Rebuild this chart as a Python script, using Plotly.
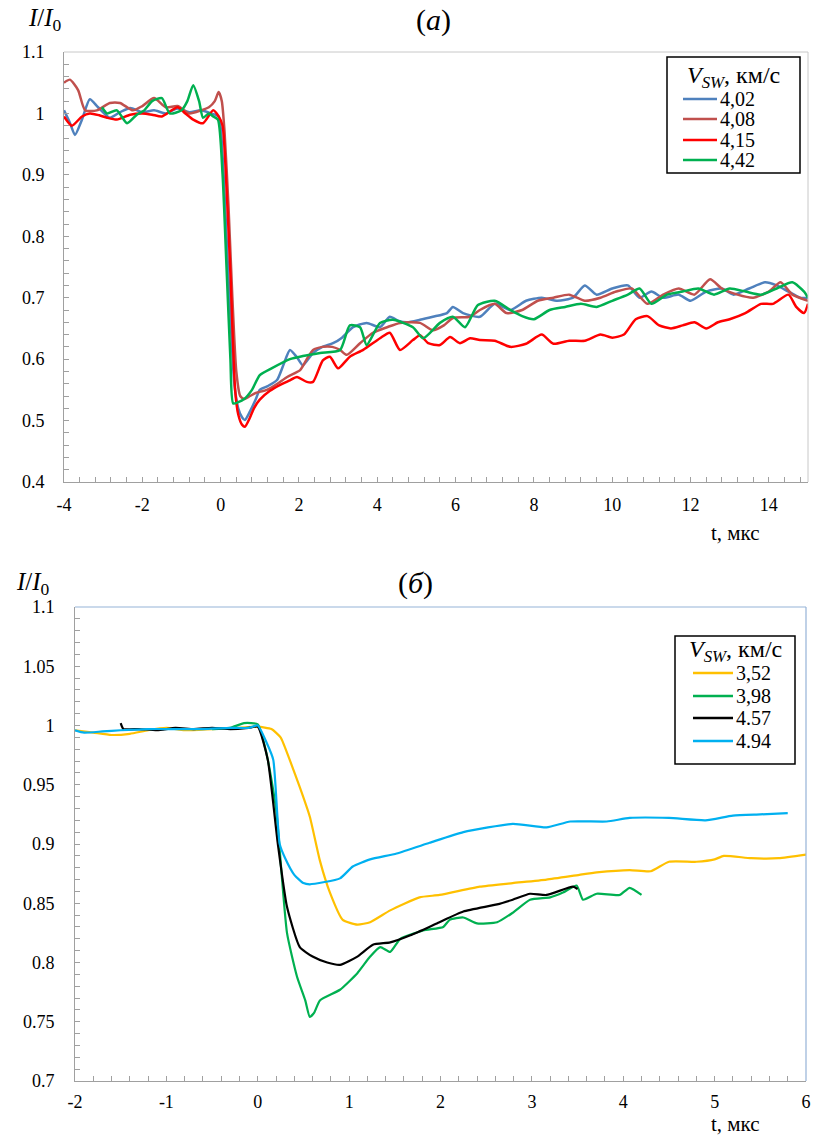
import plotly.graph_objects as go

# ---------------- data: panel (a) ----------------
a_labels = ["4,02", "4,08", "4,15", "4,42"]
a_colors = ["#4F81BD", "#C0504D", "#FF0000", "#00B050"]

a_402 = [(-4.0,1.005),(-3.85,0.985),(-3.72,0.965),(-3.54,0.99),(-3.34,1.023),(-3.13,1.01),(-2.83,0.993),
         (-2.57,1.002),(-2.31,1.009),(-2.0,1.002),(-1.7,1.005),(-1.4,1.0),(-1.1,1.008),(-0.8,1.002),(-0.5,1.005),
         (-0.25,1.0),(-0.05,0.995),(0.05,0.93),(0.15,0.8),(0.25,0.67),(0.35,0.56),(0.45,0.52),(0.55,0.505),
         (0.62,0.501),(0.75,0.515),(0.9,0.535),(1.0,0.55),(1.2,0.556),(1.44,0.566),(1.6,0.59),(1.77,0.615),
         (1.95,0.603),(2.1,0.59),(2.36,0.61),(2.6,0.62),(2.87,0.626),(3.1,0.635),(3.38,0.652),(3.73,0.659),
         (4.07,0.652),(4.32,0.669),(4.55,0.662),(4.76,0.66),(5.09,0.664),(5.42,0.669),(5.78,0.675),(5.93,0.685),
         (6.19,0.675),(6.62,0.669),(7.0,0.69),(7.4,0.68),(7.8,0.695),(8.2,0.70),(8.6,0.695),(9.0,0.70),(9.3,0.72),
         (9.6,0.705),(10.0,0.715),(10.4,0.72),(10.7,0.70),(11.0,0.71),(11.3,0.70),(11.7,0.705),(12.0,0.695),
         (12.4,0.71),(12.8,0.715),(13.1,0.705),(13.5,0.715),(13.9,0.725),(14.2,0.72),(14.5,0.71),(14.8,0.70),(15.0,0.70)]

a_408 = [(-4.0,1.05),(-3.85,1.055),(-3.64,1.038),(-3.46,1.005),(-3.16,1.005),(-2.83,1.017),(-2.57,1.017),
         (-2.24,1.005),(-2.0,1.012),(-1.7,1.025),(-1.4,1.01),(-1.1,1.012),(-0.8,1.0),(-0.5,1.005),(-0.3,1.01),
         (-0.15,1.02),(-0.05,1.035),(0.03,1.02),(0.1,0.97),(0.2,0.85),(0.3,0.7),(0.4,0.58),(0.5,0.54),(0.6,0.535),
         (0.75,0.54),(0.9,0.545),(1.18,0.55),(1.45,0.56),(1.7,0.571),(2.03,0.582),(2.2,0.6),(2.36,0.615),(2.6,0.62),
         (2.85,0.62),(3.05,0.615),(3.22,0.607),(3.56,0.626),(3.89,0.643),(4.25,0.652),(4.58,0.659),(5.09,0.659),
         (5.42,0.647),(5.7,0.655),(5.93,0.667),(6.37,0.669),(6.62,0.68),(7.0,0.69),(7.3,0.675),(7.7,0.68),(8.1,0.695),
         (8.5,0.70),(8.9,0.705),(9.3,0.695),(9.7,0.70),(10.1,0.71),(10.5,0.715),(10.9,0.69),(11.3,0.705),(11.7,0.715),
         (12.1,0.705),(12.5,0.73),(12.8,0.715),(13.2,0.705),(13.6,0.70),(14.0,0.71),(14.3,0.725),(14.6,0.705),(15.0,0.695)]

a_415 = [(-4.0,0.995),(-3.8,0.98),(-3.54,0.995),(-3.34,1.0),(-3.1,0.997),(-2.9,0.993),(-2.65,0.99),(-2.31,0.998),
         (-2.0,1.0),(-1.75,0.998),(-1.5,0.995),(-1.1,1.01),(-0.9,1.0),(-0.7,0.99),(-0.45,0.984),(-0.19,1.005),
         (-0.05,0.995),(0.05,0.98),(0.15,0.88),(0.25,0.74),(0.37,0.55),(0.45,0.51),(0.55,0.493),(0.62,0.49),
         (0.75,0.505),(0.85,0.52),(1.0,0.534),(1.25,0.548),(1.52,0.558),(1.75,0.565),(1.95,0.571),(2.2,0.563),
         (2.36,0.563),(2.61,0.598),(2.79,0.604),(3.0,0.585),(3.3,0.604),(3.64,0.615),(4.07,0.634),(4.32,0.643),
         (4.58,0.615),(4.91,0.631),(5.09,0.639),(5.3,0.626),(5.6,0.623),(5.86,0.636),(6.11,0.626),(6.37,0.634),
         (6.62,0.631),(7.0,0.63),(7.4,0.62),(7.8,0.625),(8.2,0.64),(8.5,0.625),(8.9,0.63),(9.3,0.63),(9.7,0.64),
         (10.0,0.635),(10.3,0.64),(10.6,0.665),(10.9,0.67),(11.2,0.655),(11.5,0.65),(11.8,0.655),(12.1,0.66),
         (12.4,0.65),(12.7,0.66),(13.0,0.665),(13.4,0.675),(13.8,0.69),(14.1,0.69),(14.5,0.705),(14.7,0.685),
         (14.9,0.675),(15.0,0.69)]

a_442 = [(-3.03,1.01),(-2.9,1.0),(-2.65,1.005),(-2.39,0.984),(-2.14,0.998),(-1.95,1.005),(-1.75,1.02),(-1.5,1.025),
         (-1.3,1.0),(-1.0,1.005),(-0.85,1.02),(-0.7,1.046),(-0.55,1.02),(-0.45,0.993),(-0.3,1.0),(-0.19,0.995),
         (-0.07,0.99),(0.05,0.9),(0.15,0.75),(0.25,0.6),(0.32,0.528),(0.45,0.53),(0.6,0.535),(0.8,0.55),(1.0,0.574),
         (1.3,0.585),(1.77,0.6),(2.1,0.605),(2.54,0.61),(3.05,0.615),(3.3,0.655),(3.56,0.652),(3.73,0.623),(4.07,0.659),
         (4.4,0.664),(4.91,0.652),(5.17,0.634),(5.6,0.659),(5.93,0.669),(6.24,0.652),(6.57,0.688),(7.0,0.695),
         (7.4,0.68),(7.7,0.67),(8.0,0.665),(8.4,0.68),(8.8,0.685),(9.2,0.69),(9.6,0.685),(10.0,0.695),(10.4,0.705),
         (10.7,0.715),(11.0,0.69),(11.4,0.705),(11.8,0.71),(12.2,0.715),(12.6,0.705),(13.0,0.715),(13.4,0.71),
         (13.8,0.705),(14.2,0.715),(14.6,0.725),(14.9,0.71),(15.0,0.70)]

a_series = [a_402, a_408, a_415, a_442]
a_xticks = [-4, -2, 0, 2, 4, 6, 8, 10, 12, 14]
a_xtick_labels = ["-4", "-2", "0", "2", "4", "6", "8", "10", "12", "14"]

# ---------------- data: panel (б) ----------------
b_labels = ["3,52", "3,98", "4.57", "4.94"]
b_colors = ["#FFC000", "#00B050", "#000000", "#00B0F0"]

b_352 = [(-2.0,0.996),(-1.8,0.994),(-1.6,0.992),(-1.4,0.993),(-1.2,0.996),(-1.0,0.998),(-0.8,0.996),(-0.5,0.997),
         (-0.2,0.998),(0.0,0.999),(0.15,0.997),(0.25,0.99),(0.35,0.971),(0.46,0.948),(0.57,0.923),(0.68,0.886),
         (0.79,0.859),(0.93,0.836),(1.09,0.832),(1.23,0.834),(1.45,0.844),(1.77,0.855),(1.99,0.857),(2.43,0.864),
         (2.79,0.867),(3.16,0.87),(3.52,0.874),(3.71,0.876),(4.07,0.878),(4.3,0.877),(4.5,0.885),(4.8,0.885),
         (5.0,0.887),(5.1,0.89),(5.4,0.888),(5.7,0.888),(6.0,0.891)]

b_398 = [(-0.5,0.997),(-0.3,0.998),(-0.15,1.002),(0.0,1.001),(0.1,0.975),(0.2,0.93),(0.32,0.825),(0.43,0.788),
         (0.52,0.768),(0.57,0.754),(0.62,0.758),(0.68,0.768),(0.9,0.777),(1.09,0.791),(1.23,0.805),(1.34,0.813),
         (1.45,0.809),(1.56,0.82),(1.81,0.827),(2.03,0.83),(2.1,0.836),(2.25,0.838),(2.4,0.833),(2.62,0.834),
         (2.79,0.842),(2.98,0.853),(3.2,0.855),(3.34,0.859),(3.49,0.865),(3.56,0.853),(3.71,0.858),(3.96,0.857),
         (4.07,0.863),(4.2,0.857)]

b_457 = [(-1.5,1.002),(-1.47,0.997),(-1.3,0.997),(-1.1,0.996),(-0.9,0.998),(-0.7,0.997),(-0.5,0.998),(-0.3,0.997),
         (-0.1,0.998),(0.0,0.999),(0.11,0.971),(0.22,0.9),(0.32,0.847),(0.46,0.813),(0.6,0.805),(0.76,0.8),
         (0.9,0.798),(1.09,0.805),(1.26,0.815),(1.45,0.817),(1.67,0.823),(1.96,0.833),(2.25,0.843),(2.62,0.849),
         (2.79,0.853),(2.98,0.858),(3.16,0.857),(3.45,0.864),(3.5,0.862)]

b_494 = [(-2.0,0.996),(-1.9,0.994),(-1.7,0.995),(-1.5,0.996),(-1.2,0.997),(-0.9,0.997),(-0.6,0.997),(-0.3,0.998),
         (-0.1,0.998),(0.0,1.0),(0.1,0.985),(0.17,0.971),(0.24,0.9),(0.3,0.888),(0.4,0.874),(0.5,0.867),(0.57,0.866),
         (0.9,0.871),(1.04,0.881),(1.23,0.887),(1.52,0.892),(1.88,0.901),(2.25,0.91),(2.79,0.917),(3.16,0.914),
         (3.42,0.919),(3.82,0.919),(4.07,0.922),(4.5,0.922),(4.9,0.92),(5.2,0.924),(5.5,0.925),(5.8,0.926)]

b_series = [b_352, b_398, b_457, b_494]
b_xticks = [-2, -1, 0, 1, 2, 3, 4, 5, 6]
b_xtick_labels = ["-2", "-1", "0", "1", "2", "3", "4", "5", "6"]

legend_title = "<i>V</i><sub><i>SW</i></sub>, км/с"

FONT = "Liberation Serif"
GRAY = "#A0A0A0"
FRAME_B = "#95B3D7"

fig = go.Figure()

for data, name, color in zip(a_series, a_labels, a_colors):
    fig.add_trace(go.Scatter(x=[p[0] for p in data], y=[p[1] for p in data], mode="lines", name=name,
                             line=dict(color=color, width=2.5, shape="spline", smoothing=0.6),
                             xaxis="x", yaxis="y", showlegend=False))
for data, name, color in zip(b_series, b_labels, b_colors):
    fig.add_trace(go.Scatter(x=[p[0] for p in data], y=[p[1] for p in data], mode="lines", name=name,
                             line=dict(color=color, width=2.2, shape="spline", smoothing=0.5),
                             xaxis="x2", yaxis="y2", showlegend=False))

W, H = 814, 1139
def px(x): return x / W
def py(y): return 1 - y / H

axis_common = dict(showgrid=False, zeroline=False, showline=True, linecolor=GRAY, linewidth=1,
                   ticks="inside", ticklen=5, tickcolor=GRAY, tickfont=dict(family=FONT, size=18, color="black"),
                   automargin=False, ticklabeloverflow="allow")

fig.update_layout(
    width=W, height=H, margin=dict(l=0, r=0, t=0, b=0),
    paper_bgcolor="white", plot_bgcolor="white",
    font=dict(family=FONT, color="black"),
    showlegend=False,
    xaxis=dict(domain=[px(64), px(808)], range=[-4, 15], anchor="y", tickvals=a_xticks, ticktext=a_xtick_labels,
               minor=dict(dtick=0.4, tick0=-4, ticks="inside", ticklen=5, tickcolor=GRAY), ticklabelstandoff=6,
               **axis_common),
    yaxis=dict(domain=[py(482), py(52)], range=[0.4, 1.1], anchor="x", dtick=0.1, tick0=0.4,
               minor=dict(dtick=0.02, tick0=0.4, ticks="inside", ticklen=5, tickcolor=GRAY), ticklabelstandoff=15,
               **axis_common),
    xaxis2=dict(domain=[px(75), px(806)], range=[-2, 6], anchor="y2", tickvals=b_xticks, ticktext=b_xtick_labels,
                minor=dict(dtick=0.2, tick0=-2, ticks="inside", ticklen=5, tickcolor=GRAY), ticklabelstandoff=4,
                **axis_common),
    yaxis2=dict(domain=[py(1081), py(607)], range=[0.7, 1.1], anchor="x2", dtick=0.05, tick0=0.7,
                minor=dict(dtick=0.01, tick0=0.7, ticks="inside", ticklen=5, tickcolor=GRAY), ticklabelstandoff=16,
                **axis_common),
)

# frames (top and right sides)
fig.add_shape(type="line", xref="x domain", yref="y domain", x0=0, x1=1, y0=1, y1=1, line=dict(color="#C8C8C8", width=1))
fig.add_shape(type="line", xref="x domain", yref="y domain", x0=1, x1=1, y0=0, y1=1, line=dict(color="#C8C8C8", width=1))
fig.add_shape(type="line", xref="x2 domain", yref="y2 domain", x0=0, x1=1, y0=1, y1=1, line=dict(color=FRAME_B, width=1.2))
fig.add_shape(type="line", xref="x2 domain", yref="y2 domain", x0=1, x1=1, y0=0, y1=1, line=dict(color=FRAME_B, width=1.2))

# legends (drawn as boxes with sample lines and text)
def draw_legend(box, title_y, row_ys, line_x, text_x, labels, colors, lw):
    x0, y0, x1, y1 = box
    fig.add_shape(type="rect", xref="paper", yref="paper", x0=px(x0), x1=px(x1), y0=py(y1), y1=py(y0),
                  line=dict(color="black", width=1.5), fillcolor="white", layer="above")
    fig.add_annotation(text=legend_title, x=px((x0 + x1) / 2), y=py(title_y), xref="paper", yref="paper",
                       showarrow=False, xanchor="center", yanchor="middle",
                       font=dict(family=FONT, size=24, color="black"))
    for yy, lab, col in zip(row_ys, labels, colors):
        fig.add_shape(type="line", xref="paper", yref="paper", x0=px(line_x[0]), x1=px(line_x[1]),
                      y0=py(yy), y1=py(yy), line=dict(color=col, width=lw), layer="above")
        fig.add_annotation(text=lab, x=px(text_x), y=py(yy), xref="paper", yref="paper", showarrow=False,
                           xanchor="left", yanchor="middle", font=dict(family=FONT, size=20, color="black"))

draw_legend((667, 57, 800, 173), 77, [99, 119, 140, 160], (683, 717), 718, a_labels, a_colors, 2.5)
draw_legend((675, 636, 795, 764), 651, [673, 696, 718, 741], (693, 733), 734, b_labels, b_colors, 2.5)

ann = [
    dict(text="<i>I</i>/<i>I</i><sub>0</sub>", x=px(45), y=py(20), size=25),
    dict(text="(<i>a</i>)", x=px(433), y=py(20), size=30),
    dict(text="t, мкс", x=px(735), y=py(533), size=21),
    dict(text="<i>I</i>/<i>I</i><sub>0</sub>", x=px(33), y=py(583), size=25),
    dict(text="(<i>б</i>)", x=px(415), y=py(583), size=30),
    dict(text="t, мкс", x=px(735), y=py(1124), size=21),
]
for a in ann:
    fig.add_annotation(text=a["text"], x=a["x"], y=a["y"], xref="paper", yref="paper", showarrow=False,
                       xanchor="center", yanchor="middle", font=dict(family=FONT, size=a["size"], color="black"))

fig.write_html("out.html", config={"displayModeBar": False},
               post_script="document.body.style.margin='0';document.body.style.overflow='hidden';")
